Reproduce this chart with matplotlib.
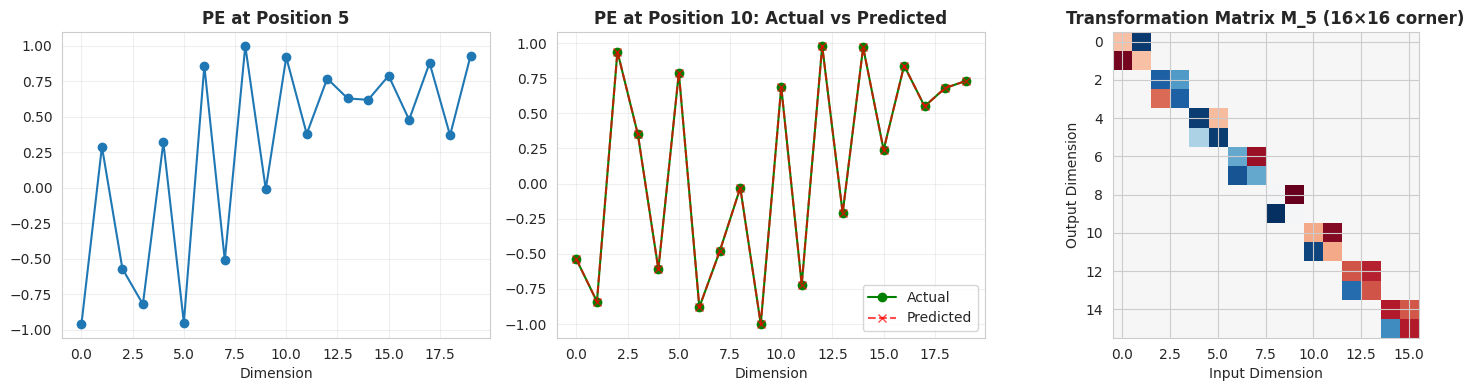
import numpy as np
import matplotlib
matplotlib.use("Agg")
import matplotlib.pyplot as plt
import seaborn as sns

sns.set_style("whitegrid")

dims = list(range(20))
pe_pos5 = [-0.96, 0.29, -0.57, -0.82, 0.32, -0.95, 0.86, -0.51, 1.00, -0.01,
           0.92, 0.38, 0.77, 0.63, 0.62, 0.79, 0.48, 0.88, 0.37, 0.93]
pe_pos10_actual = [-0.54, -0.84, 0.94, 0.35, -0.61, 0.79, -0.88, -0.48, -0.03, -1.00,
                   0.69, -0.72, 0.98, -0.21, 0.97, 0.24, 0.84, 0.55, 0.68, 0.73]
pe_pos10_pred = [-0.54, -0.84, 0.94, 0.35, -0.61, 0.79, -0.88, -0.48, -0.03, -1.00,
                 0.69, -0.72, 0.98, -0.21, 0.97, 0.24, 0.84, 0.55, 0.68, 0.73]

# rotation blocks (sin, cos) for the 16x16 corner of M_5
block_sin = [-0.96, -0.57, 0.32, 0.86, 1.00, 0.92, 0.77, 0.62]
block_cos = [0.29, -0.82, -0.95, -0.51, -0.01, 0.38, 0.63, 0.79]

M = np.zeros((16, 16))
for k, (s, c) in enumerate(zip(block_sin, block_cos)):
    i = 2 * k
    M[i, i] = c
    M[i, i + 1] = s
    M[i + 1, i] = -s
    M[i + 1, i + 1] = c

fig, axes = plt.subplots(1, 3, figsize=(14.75, 3.9), dpi=100)

ax = axes[0]
ax.plot(dims, pe_pos5, "o-")
ax.set_title("PE at Position 5", fontweight="bold", fontsize=12)
ax.set_xlabel("Dimension")
ax.grid(True, alpha=0.3)

ax = axes[1]
ax.plot(dims, pe_pos10_actual, "go-", label="Actual")
ax.plot(dims, pe_pos10_pred, "rx--", label="Predicted", alpha=0.7)
ax.set_title("PE at Position 10: Actual vs Predicted", fontweight="bold", fontsize=12)
ax.set_xlabel("Dimension")
ax.legend(loc="lower right")
ax.grid(True, alpha=0.3)

ax = axes[2]
ax.imshow(M, cmap="RdBu_r", vmin=-1, vmax=1)
ax.set_title("Transformation Matrix M_5 (16\u00d716 corner)", fontweight="bold", fontsize=12)
ax.set_xlabel("Input Dimension")
ax.set_ylabel("Output Dimension")

bottom, height = 52 / 390, 306 / 390
w = 428 / 1475
axes[0].set_position([62 / 1475, bottom, w, height])
axes[1].set_position([557 / 1475, bottom, w, height])
axes[2].set_position([1051.5 / 1475, bottom, w, height])

plt.savefig("out.png", dpi=100)
